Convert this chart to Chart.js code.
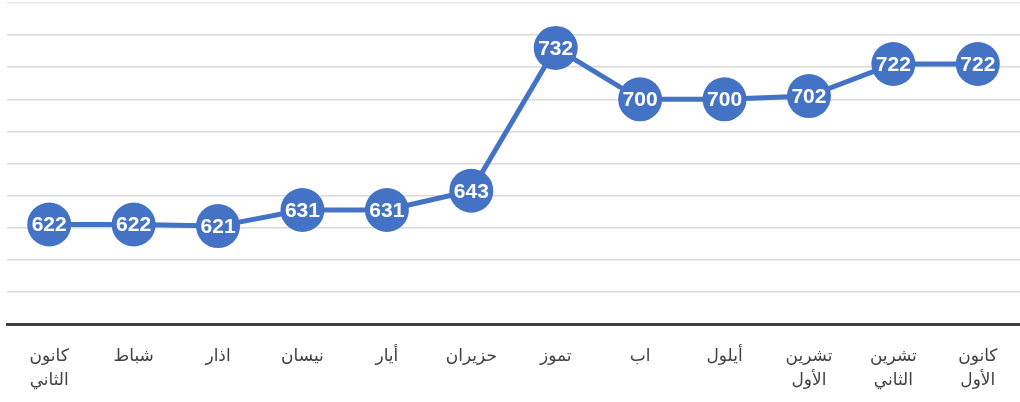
<!DOCTYPE html>
<html>
<head>
<meta charset="utf-8">
<script src="https://cdn.jsdelivr.net/npm/chart.js@4/dist/chart.umd.min.js"></script>
<style>
  html, body { margin: 0; padding: 0; background: #fff; }
  #wrap { width: 1020px; height: 402px; position: relative; }
</style>
</head>
<body>
<div id="wrap"><canvas id="chart"></canvas></div>
<script>
const monthLabels = [
  ["كانون", "الثاني"], "شباط", "اذار", "نيسان", "أيار", "حزيران",
  "تموز", "اب", "أيلول", ["تشرين", "الأول"], ["تشرين", "الثاني"], ["كانون", "الأول"]
];
const values = [622, 622, 621, 631, 631, 643, 732, 700, 700, 702, 722, 722];
const yMin = 560;
const yMax = 760;
const yStep = 20;

const BLUE = "#4472C4";

// draws the value inside each marker
const pointLabels = {
  id: "pointLabels",
  afterDatasetsDraw(chart){
    const ctx = chart.ctx;
    const meta = chart.getDatasetMeta(0);
    ctx.save();
    ctx.fillStyle = "#fff";
    ctx.font = "bold 21px 'Liberation Sans', Arial, sans-serif";
    ctx.textAlign = "center";
    ctx.textBaseline = "middle";
    meta.data.forEach((pt, i) => {
      ctx.fillText(String(values[i]), pt.x, pt.y + 1);
    });
    ctx.restore();
  },
};

new Chart(document.getElementById("chart"), {
  type: "line",
  data: {
    labels: monthLabels,
    datasets: [{
      data: values,
      borderColor: BLUE,
      backgroundColor: BLUE,
      borderWidth: 5,
      pointRadius: 22,
      pointHoverRadius: 22,
      pointBorderWidth: 0,
      pointBackgroundColor: BLUE,
      tension: 0,
      clip: false,
    }],
  },
  options: {
    responsive: true,
    maintainAspectRatio: false,
    animation: false,
    layout: { autoPadding: false, padding: { left: 7, right: 0, top: 3, bottom: 0 } },
    plugins: { legend: { display: false }, tooltip: { enabled: false } },
    scales: {
      x: {
        offset: true,
        grid: { display: false, drawTicks: false },
        border: { display: true, color: "#404040", width: 3 },
        ticks: {
          color: "#404040",
          padding: 20,
          maxRotation: 0,
          autoSkip: false,
          font: { family: "'DejaVu Sans', 'Noto Sans', sans-serif", size: 17, lineHeight: 1.45 },
        },
        afterFit(scale){ scale.height = 78; },
      },
      y: {
        min: yMin,
        max: yMax,
        ticks: { display: false, stepSize: yStep },
        border: { display: false },
        grid: {
          drawTicks: false,
          color: (c) => c.tick && c.tick.value === yMax ? "#ececec" : "#d9d9d9",
          lineWidth: 1.5,
        },
      },
    },
  },
  plugins: [pointLabels],
});
</script>
</body>
</html>
